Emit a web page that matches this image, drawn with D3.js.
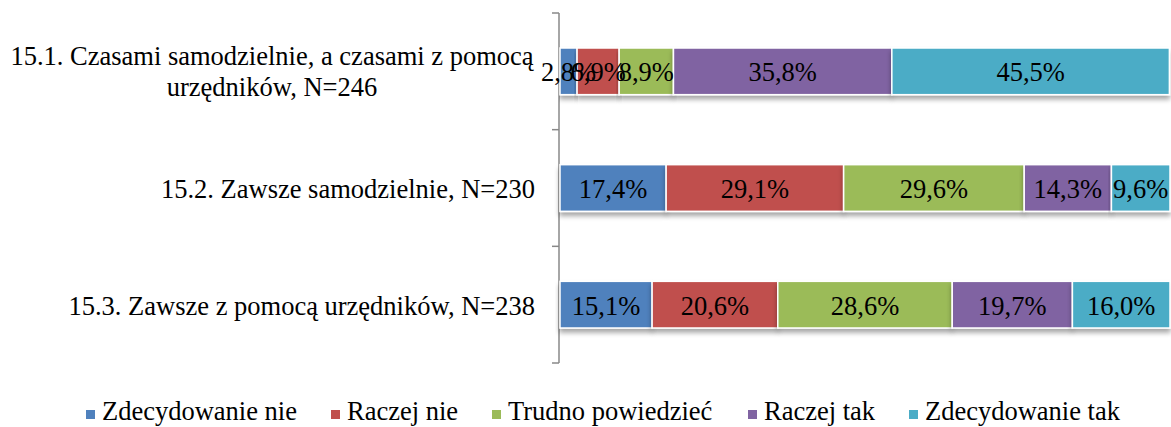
<!DOCTYPE html>
<html><head><meta charset="utf-8">
<script src="https://cdn.jsdelivr.net/npm/d3@7"></script>
<style>body{margin:0;background:#fff}svg{display:block}text{font-family:"Liberation Serif","Times New Roman",serif;fill:#000}</style>
</head><body><svg id="c" width="1171" height="427"></svg>
<script>
const categories = [["15.1. Czasami samodzielnie, a czasami z pomocą","urzędników, N=246"],["15.2. Zawsze samodzielnie, N=230"],["15.3. Zawsze z pomocą urzędników, N=238"]];
const series = ["Zdecydowanie nie","Raczej nie","Trudno powiedzieć","Raczej tak","Zdecydowanie tak"];
const colors = ["#4F81BD","#C0504D","#9BBB59","#8064A2","#4BACC6"];
const values = [
  [2.8, 6.9, 8.9, 35.8, 45.5],
  [17.4, 29.1, 29.6, 14.3, 9.6],
  [15.1, 20.6, 28.6, 19.7, 16.0]
];
const svg = d3.select("#c");
const defs = svg.append("defs");
const f = defs.append("filter").attr("id","sh").attr("x","-5%").attr("y","-20%").attr("width","110%").attr("height","160%");
f.append("feGaussianBlur").attr("in","SourceAlpha").attr("stdDeviation",2.5).attr("result","b");
f.append("feOffset").attr("in","b").attr("dx",0).attr("dy",4).attr("result","o");
f.append("feComponentTransfer").attr("in","o").attr("result","t").append("feFuncA").attr("type","linear").attr("slope",0.35);
const m = f.append("feMerge"); m.append("feMergeNode").attr("in","t"); m.append("feMergeNode").attr("in","SourceGraphic");

const FS = 26.5;
function txt(g, x, y, s, anchor){
  return g.append("text").attr("x",x).attr("y",y)
    .attr("font-size",FS).attr("text-anchor",anchor||"start").text(s);
}

const x = d3.scaleLinear().domain([0,100]).range([560,1170]);
const y = d3.scaleBand().domain(d3.range(categories.length)).range([13,363]).paddingInner(0.6).paddingOuter(0.3);
const yb = d3.scaleBand().domain(d3.range(categories.length)).range([13,363]);

// axis
const ax = svg.append("g").attr("transform","translate(559,0)");
ax.append("line").attr("x1",0).attr("x2",0).attr("y1",13).attr("y2",363).attr("stroke","#888").attr("stroke-width",1.5);
const ticks = [13].concat(categories.map((c,i)=>yb(i)+yb.bandwidth()));
ax.selectAll("line.t").data(ticks).join("line").attr("class","t").attr("x1",-7).attr("x2",0).attr("y1",d=>d).attr("y2",d=>d).attr("stroke","#888").attr("stroke-width",1.5);

const fmt = v => d3.format(".1f")(v).replace(".",",") + "%";
values.forEach((row,i)=>{
  let acc = 0;
  const segs = row.map((v,j)=>{const s={v,j,x0:acc,x1:acc+v}; acc+=v; return s;});
  const g = svg.append("g");
  g.selectAll("rect").data(segs).join("rect")
    .attr("x",d=>x(d.x0)).attr("width",d=>x(d.x1)-x(d.x0))
    .attr("y",y(i)).attr("height",y.bandwidth())
    .attr("fill",d=>colors[d.j]).attr("stroke","#fff").attr("stroke-width",1.5)
    .attr("filter","url(#sh)");
  segs.forEach(d=>txt(g,(x(d.x0)+x(d.x1))/2, y(i)+y.bandwidth()/2+10, fmt(d.v), "middle"));
});

// category labels
categories.forEach((lines,i)=>{
  const cy = yb(i)+yb.bandwidth()/2;
  if(lines.length===1){
    txt(svg,535,cy+10,lines[0],"end");
  } else {
    lines.forEach((l,k)=>txt(svg,272,cy+9+(k-(lines.length-1)/2)*31,l,"middle"));
  }
});

// legend
const lx = [86,331,492,748,909];
const lg = svg.append("g");
series.forEach((s,j)=>{
  lg.append("rect").attr("x",lx[j]).attr("y",410).attr("width",9).attr("height",9).attr("fill",colors[j]);
  txt(lg,lx[j]+16,420,s,"start");
});
</script></body></html>
